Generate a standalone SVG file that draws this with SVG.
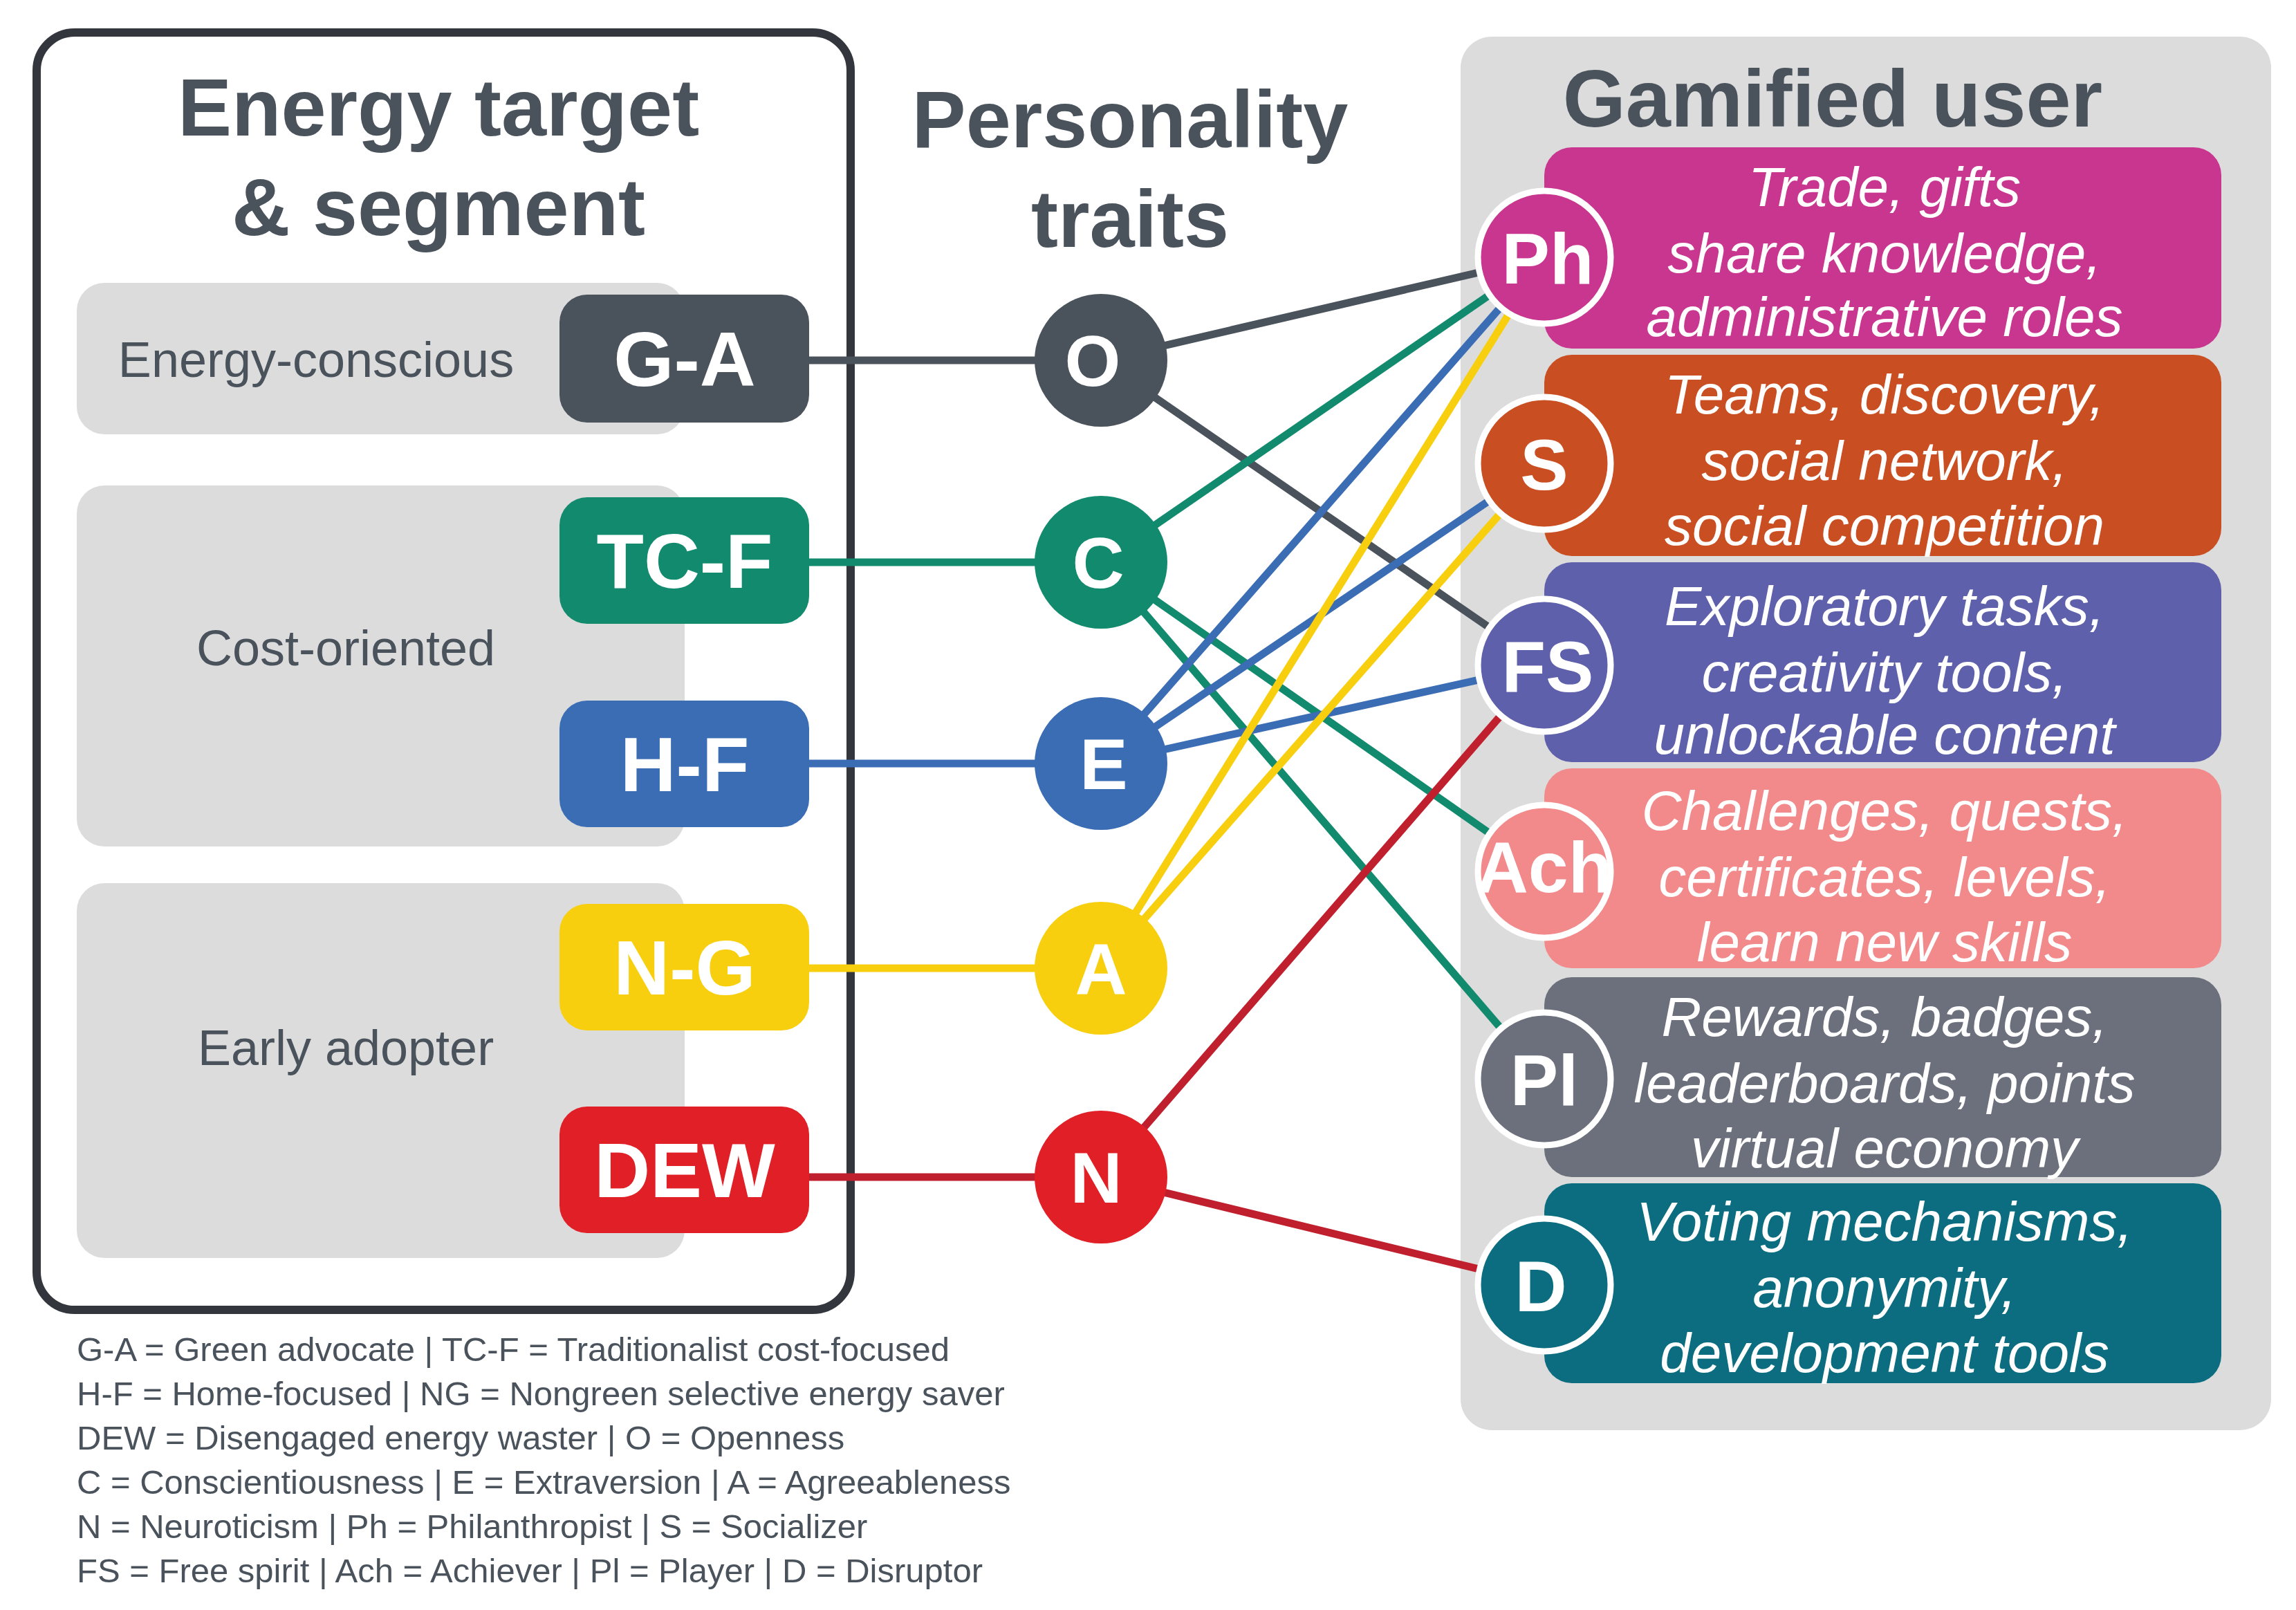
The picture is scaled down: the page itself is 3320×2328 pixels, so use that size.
<svg xmlns="http://www.w3.org/2000/svg" width="3320" height="2328" viewBox="0 0 3320 2328">
<style>
.t{font-family:"Liberation Sans",Arial,sans-serif;font-weight:bold;fill:#4A525C;text-anchor:middle}
.seg{font-family:"Liberation Sans",Arial,sans-serif;font-weight:bold;fill:#fff;text-anchor:middle;font-size:112px}
.lab{font-family:"Liberation Sans",Arial,sans-serif;fill:#4A525C;font-size:72px;text-anchor:middle}
.tr{font-family:"Liberation Sans",Arial,sans-serif;font-weight:bold;fill:#fff;text-anchor:middle;font-size:104px}
.it{font-family:"Liberation Sans",Arial,sans-serif;font-style:italic;fill:#fff;text-anchor:middle;font-size:80px}
.lg{font-family:"Liberation Sans",Arial,sans-serif;fill:#4A525C;font-size:49px}
.pan{fill:#DCDCDC}
.c line{stroke-width:11}
.uc{stroke:#fff;stroke-width:9}
</style>
<rect width="3320" height="2328" fill="#fff"/>
<g id="left-box">
<rect x="53" y="47" width="1177" height="1847" rx="55" fill="none" stroke="#33373D" stroke-width="12"/>
<text class="t" x="634" y="196" font-size="117">Energy target</text>
<text class="t" x="634" y="340" font-size="117">&amp; segment</text>
<rect class="pan" x="111" y="409" width="879" height="219" rx="40"/>
<rect class="pan" x="111" y="702" width="879" height="522" rx="40"/>
<rect class="pan" x="111" y="1277" width="879" height="542" rx="40"/>
<text class="lab" x="457" y="545">Energy-conscious</text>
<text class="lab" x="500" y="962">Cost-oriented</text>
<text class="lab" x="500" y="1540">Early adopter</text>
</g>
<g id="right-panel">
<rect class="pan" x="2112" y="53" width="1172" height="2015" rx="45"/>
<text class="t" x="2650" y="183" font-size="117">Gamified user</text>
</g>
<text class="t" x="1634" y="213" font-size="117">Personality</text>
<text class="t" x="1634" y="357" font-size="117">traits</text>
<g id="connectors" class="c">
<line x1="1170" y1="521" x2="1592" y2="521" stroke="#4A525C"/>
<line x1="1170" y1="813" x2="1592" y2="813" stroke="#118A6E"/>
<line x1="1170" y1="1104" x2="1592" y2="1104" stroke="#3B6DB5"/>
<line x1="1170" y1="1400" x2="1592" y2="1400" stroke="#F8CF0F"/>
<line x1="1170" y1="1702" x2="1592" y2="1702" stroke="#C0202E"/>
<line x1="1592" y1="521" x2="2233" y2="372" stroke="#4A525C"/>
<line x1="1592" y1="521" x2="2233" y2="962" stroke="#4A525C"/>
<line x1="1592" y1="813" x2="2233" y2="372" stroke="#118A6E"/>
<line x1="1592" y1="813" x2="2233" y2="1260" stroke="#118A6E"/>
<line x1="1592" y1="813" x2="2233" y2="1560" stroke="#118A6E"/>
<line x1="1592" y1="1104" x2="2233" y2="372" stroke="#3B6DB5"/>
<line x1="1592" y1="1104" x2="2233" y2="670" stroke="#3B6DB5"/>
<line x1="1592" y1="1104" x2="2233" y2="962" stroke="#3B6DB5"/>
<line x1="1592" y1="1400" x2="2233" y2="372" stroke="#F8CF0F"/>
<line x1="1592" y1="1400" x2="2233" y2="670" stroke="#F8CF0F"/>
<line x1="1592" y1="1702" x2="2233" y2="962" stroke="#C0202E"/>
<line x1="1592" y1="1702" x2="2233" y2="1858" stroke="#C0202E"/>
</g>
<g id="seg-GA"><rect x="809" y="426" width="361" height="185" rx="40" fill="#4A525C"/><text class="seg" x="990" y="558">G-A</text></g>
<g id="seg-TCF"><rect x="809" y="719" width="361" height="183" rx="40" fill="#118A6E"/><text class="seg" x="990" y="850">TC-F</text></g>
<g id="seg-HF"><rect x="809" y="1013" width="361" height="183" rx="40" fill="#3B6DB5"/><text class="seg" x="990" y="1144">H-F</text></g>
<g id="seg-NG"><rect x="809" y="1307" width="361" height="183" rx="40" fill="#F8CF0F"/><text class="seg" x="990" y="1438">N-G</text></g>
<g id="seg-DEW"><rect x="809" y="1600" width="361" height="183" rx="40" fill="#E01F26"/><text class="seg" x="990" y="1731">DEW</text></g>
<g id="trait-O"><circle cx="1592" cy="521" r="96" fill="#4A525C"/><text class="tr" x="1580" y="558">O</text></g>
<g id="trait-C"><circle cx="1592" cy="813" r="96" fill="#118A6E"/><text class="tr" x="1588" y="850">C</text></g>
<g id="trait-E"><circle cx="1592" cy="1104" r="96" fill="#3B6DB5"/><text class="tr" x="1596" y="1141">E</text></g>
<g id="trait-A"><circle cx="1592" cy="1400" r="96" fill="#F8CF0F"/><text class="tr" x="1592" y="1437">A</text></g>
<g id="trait-N"><circle cx="1592" cy="1702" r="96" fill="#E01F26"/><text class="tr" x="1585" y="1739">N</text></g>
<g transform="translate(-12,0)">
<g id="user-Ph"><rect x="2245" y="213" width="979" height="291" rx="40" fill="#C8368F"/><circle class="uc" cx="2245" cy="372" r="96" fill="#C8368F"/><text class="tr" x="2250" y="410">Ph</text>
<text class="it" x="2737" y="298">Trade, gifts</text><text class="it" x="2737" y="394">share knowledge,</text><text class="it" x="2737" y="486">administrative roles</text></g>
<g id="user-S"><rect x="2245" y="513" width="979" height="291" rx="40" fill="#C94F22"/><circle class="uc" cx="2245" cy="670" r="96" fill="#C94F22"/><text class="tr" x="2245" y="708">S</text>
<text class="it" x="2737" y="598">Teams, discovery,</text><text class="it" x="2737" y="694">social network,</text><text class="it" x="2737" y="788">social competition</text></g>
<g id="user-FS"><rect x="2245" y="813" width="979" height="289" rx="40" fill="#5F60AB"/><circle class="uc" cx="2245" cy="962" r="96" fill="#5F60AB"/><text class="tr" x="2250" y="1000">FS</text>
<text class="it" x="2737" y="904">Exploratory tasks,</text><text class="it" x="2737" y="1000">creativity tools,</text><text class="it" x="2737" y="1090">unlockable content</text></g>
<g id="user-Ach"><rect x="2245" y="1111" width="979" height="289" rx="40" fill="#F28A8C"/><circle class="uc" cx="2245" cy="1260" r="96" fill="#F28A8C"/><text class="tr" x="2245" y="1290" font-size="80">Ach</text>
<text class="it" x="2737" y="1200">Challenges, quests,</text><text class="it" x="2737" y="1296">certificates, levels,</text><text class="it" x="2737" y="1390">learn new skills</text></g>
<g id="user-Pl"><rect x="2245" y="1413" width="979" height="289" rx="40" fill="#6C707C"/><circle class="uc" cx="2245" cy="1560" r="96" fill="#6C707C"/><text class="tr" x="2245" y="1598">Pl</text>
<text class="it" x="2737" y="1498">Rewards, badges,</text><text class="it" x="2737" y="1594">leaderboards, points</text><text class="it" x="2737" y="1688">virtual economy</text></g>
<g id="user-D"><rect x="2245" y="1711" width="979" height="289" rx="40" fill="#0C6D80"/><circle class="uc" cx="2245" cy="1858" r="96" fill="#0C6D80"/><text class="tr" x="2240" y="1896">D</text>
<text class="it" x="2737" y="1794">Voting mechanisms,</text><text class="it" x="2737" y="1890">anonymity,</text><text class="it" x="2737" y="1984">development tools</text></g>
</g>
<g id="legend">
<text class="lg" x="111" y="1968">G-A = Green advocate | TC-F = Traditionalist cost-focused</text>
<text class="lg" x="111" y="2032">H-F = Home-focused | NG = Nongreen selective energy saver</text>
<text class="lg" x="111" y="2096">DEW = Disengaged energy waster | O = Openness</text>
<text class="lg" x="111" y="2160">C = Conscientiousness | E = Extraversion | A = Agreeableness</text>
<text class="lg" x="111" y="2224">N = Neuroticism | Ph = Philanthropist | S = Socializer</text>
<text class="lg" x="111" y="2288">FS = Free spirit | Ach = Achiever | Pl = Player | D = Disruptor</text>
</g>
</svg>
